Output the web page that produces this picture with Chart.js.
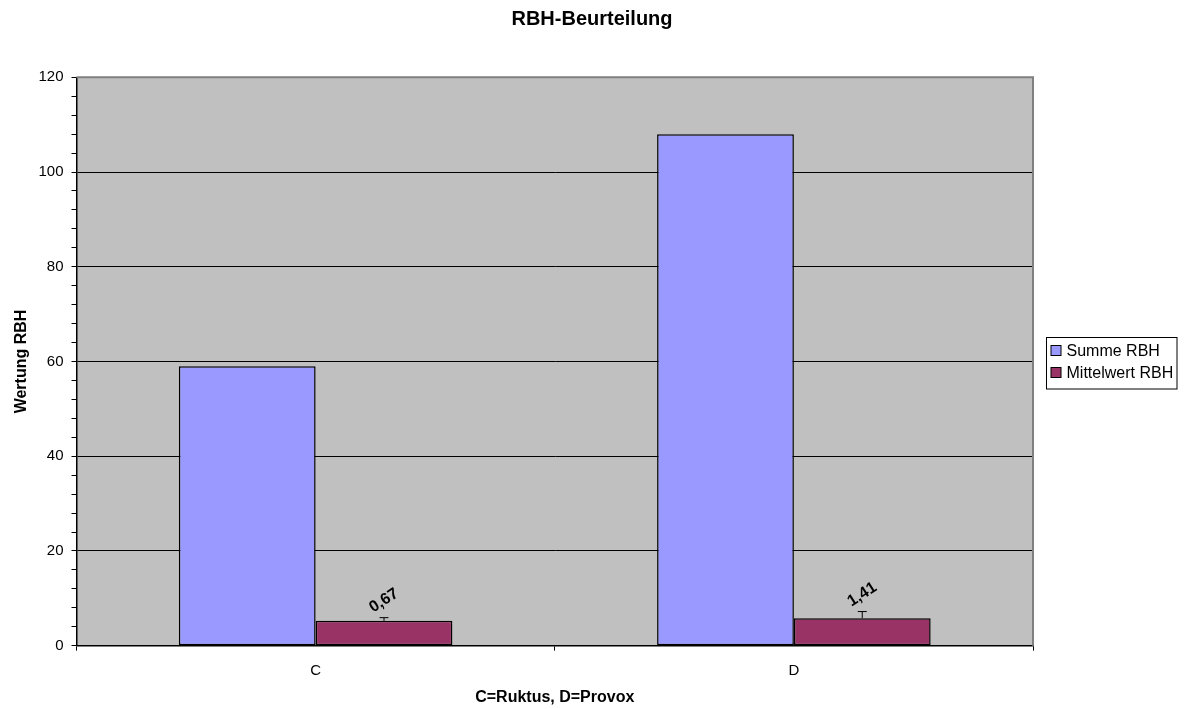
<!DOCTYPE html>
<html>
<head>
<meta charset="utf-8">
<title>RBH-Beurteilung</title>
<script src="https://cdn.jsdelivr.net/npm/chart.js@4/dist/chart.umd.min.js"></script>
<style>
  html, body { margin: 0; padding: 0; background: #ffffff; }
  canvas { display: block; }
</style>
</head>
<body>
<canvas id="chart" width="1184" height="709"></canvas>
<script>
// Categories and series
const categories = ['C', 'D'];
const summeRBH = [59, 108];
const mittelwertRBH = [5.25, 5.8];
const mittelwertFehler = [0.67, 1.41];
const yTicks = [0, 20, 40, 60, 80, 100, 120];
const chartTitle = 'RBH-Beurteilung';

const FONT = "'Liberation Sans', Arial, Helvetica, sans-serif";
const fmt = v => String(v).replace('.', ',');

// Grey plot background plus grey frame on top/right edges
const plotArea = {
  id: 'plotArea',
  beforeDraw(chart) {
    const { ctx, chartArea: a } = chart;
    ctx.save();
    ctx.fillStyle = '#c0c0c0';
    ctx.fillRect(a.left, a.top, a.right - a.left, a.bottom - a.top);
    ctx.restore();
  },
  afterDraw(chart) {
    const { ctx, chartArea: a } = chart;
    ctx.save();
    ctx.strokeStyle = '#808080';
    ctx.lineWidth = 2;
    ctx.beginPath();
    ctx.moveTo(a.left, a.top);
    ctx.lineTo(a.right, a.top);
    ctx.lineTo(a.right, a.bottom);
    ctx.stroke();
    ctx.restore();
  }
};

// Title centred over the whole canvas (legend column included)
const pageTitle = {
  id: 'pageTitle',
  afterDraw(chart) {
    const { ctx } = chart;
    ctx.save();
    ctx.font = 'bold 20px ' + FONT;
    ctx.fillStyle = '#000';
    ctx.textAlign = 'center';
    ctx.textBaseline = 'middle';
    ctx.fillText(chartTitle, chart.width / 2, 19);
    ctx.restore();
  }
};

// Plus-direction error bars and rotated value labels on the mean series
const errorBars = {
  id: 'errorBars',
  afterDatasetsDraw(chart) {
    const { ctx } = chart;
    const y = chart.scales.y;
    const meta = chart.getDatasetMeta(1);
    ctx.save();
    meta.data.forEach((bar, i) => {
      const top = y.getPixelForValue(mittelwertRBH[i]);
      const errTop = y.getPixelForValue(mittelwertRBH[i] + mittelwertFehler[i]);
      ctx.strokeStyle = '#000';
      ctx.lineWidth = 1;
      ctx.beginPath();
      ctx.moveTo(bar.x, top);
      ctx.lineTo(bar.x, errTop);
      ctx.moveTo(bar.x - 4.5, errTop);
      ctx.lineTo(bar.x + 4.5, errTop);
      ctx.stroke();

      ctx.save();
      ctx.translate(bar.x, errTop - 17);
      ctx.rotate(-33 * Math.PI / 180);
      ctx.font = 'bold 16px ' + FONT;
      ctx.fillStyle = '#000';
      ctx.textAlign = 'center';
      ctx.textBaseline = 'middle';
      ctx.fillText(fmt(mittelwertFehler[i]), 0, 0);
      ctx.restore();
    });
    ctx.restore();
  }
};

// Boxed legend at the right of the plot
const boxLegend = {
  id: 'boxLegend',
  afterDraw(chart) {
    const { ctx, chartArea: a } = chart;
    const x = a.right + 13.5;
    const mid = (a.top + a.bottom) / 2;
    const top = mid - 24;
    const w = 130.5, h = 51.5;
    ctx.save();
    ctx.fillStyle = '#fff';
    ctx.fillRect(x, top, w, h);
    ctx.strokeStyle = '#000';
    ctx.lineWidth = 1;
    ctx.strokeRect(x, top, w, h);
    ctx.font = '16px ' + FONT;
    ctx.textBaseline = 'middle';
    chart.data.datasets.forEach((ds, i) => {
      const cy = top + 13 + i * 22;
      ctx.fillStyle = ds.backgroundColor;
      ctx.fillRect(x + 4.5, cy - 5, 10, 10);
      ctx.strokeStyle = '#000';
      ctx.strokeRect(x + 4.5, cy - 5, 10, 10);
      ctx.fillStyle = '#000';
      ctx.fillText(ds.label, x + 20, cy + 1);
    });
    ctx.restore();
  }
};

new Chart(document.getElementById('chart'), {
  type: 'bar',
  data: {
    labels: categories,
    datasets: [
      {
        label: 'Summe RBH',
        data: summeRBH,
        backgroundColor: '#9999ff',
        borderColor: '#000',
        borderWidth: 1.5,
        borderSkipped: false
      },
      {
        label: 'Mittelwert RBH',
        data: mittelwertRBH,
        backgroundColor: '#993366',
        borderColor: '#000',
        borderWidth: 1.5,
        borderSkipped: false
      }
    ]
  },
  options: {
    responsive: false,
    animation: false,
    devicePixelRatio: 1,
    layout: { padding: { left: 0, right: 151, top: 77.3, bottom: 0 } },
    datasets: {
      bar: { categoryPercentage: 0.572, barPercentage: 1 }
    },
    plugins: {
      legend: { display: false },
      tooltip: { enabled: false },
      title: { display: false }
    },
    scales: {
      x: {
        afterFit(scale) { scale.height = 63.3; },
        grid: {
          offset: true,
          drawOnChartArea: false,
          color: '#000',
          tickLength: 5
        },
        border: { color: '#000', width: 1.5 },
        ticks: {
          color: '#000',
          font: { family: FONT, size: 15 },
          padding: 11
        },
        title: {
          display: true,
          text: 'C=Ruktus, D=Provox',
          color: '#000',
          font: { family: FONT, size: 16, weight: 'bold' },
          padding: { top: 0, bottom: 1.4 }
        }
      },
      y: {
        min: 0,
        max: 120,
        afterFit(scale) { scale.width = 76.5; },
        afterBuildTicks(scale) {
          // minor ticks every 4 units; labels only where yTicks lists them
          const t = [];
          for (let v = 0; v <= 120; v += 4) t.push({ value: v });
          scale.ticks = t;
        },
        grid: {
          color: ctx => (ctx.tick && yTicks.includes(ctx.tick.value) && ctx.tick.value !== 0) ? '#000' : 'rgba(0,0,0,0)',
          tickColor: '#000',
          tickLength: 5,
          lineWidth: 1
        },
        border: { color: '#000', width: 1.5 },
        ticks: {
          autoSkip: false,
          color: '#000',
          font: { family: FONT, size: 15 },
          padding: 8,
          callback: v => yTicks.includes(v) ? String(v) : ''
        },
        title: {
          display: true,
          text: 'Wertung RBH',
          color: '#000',
          font: { family: FONT, size: 16, weight: 'bold' },
          padding: { top: 12, bottom: 0 }
        }
      }
    }
  },
  plugins: [plotArea, errorBars, boxLegend, pageTitle]
});
</script>
</body>
</html>
